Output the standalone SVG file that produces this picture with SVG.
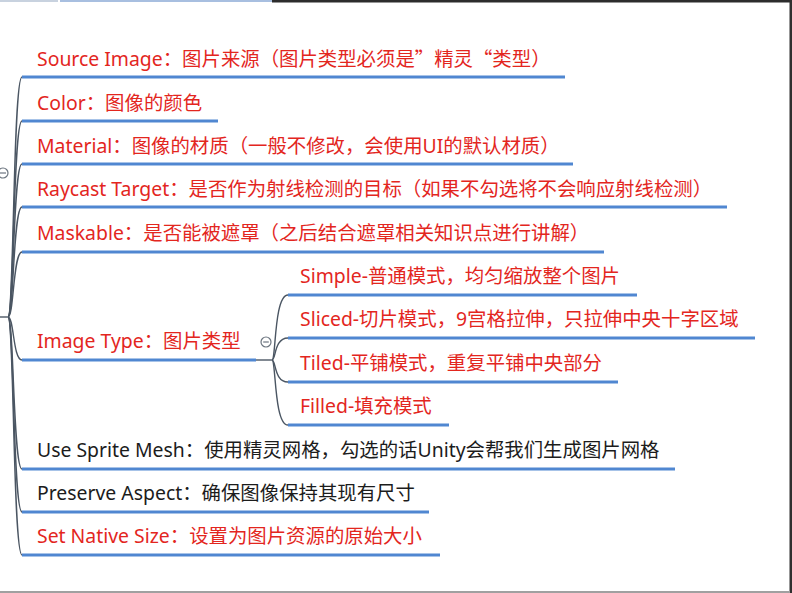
<svg xmlns="http://www.w3.org/2000/svg" width="792" height="593" viewBox="0 0 792 593">
<style>
text{font-family:"Noto Sans","Noto Sans CJK SC",sans-serif;font-size:19.4px;}
.r{fill:#e3261e;}
.k{fill:#1c1c1c;}
.q{font-family:"Noto Sans CJK SC",sans-serif;}
.ul{stroke:#5087d1;stroke-width:3.2;stroke-linecap:butt;fill:none;}
.cn{stroke:#4b5663;stroke-width:1.4;fill:none;}
.tg{fill:#fff;stroke:#6d7680;stroke-width:1.2;}
</style>
<rect x="0" y="0" width="792" height="593" fill="#ffffff"/>
<rect x="0" y="0" width="58" height="2" fill="#c8d2df"/>
<rect x="60" y="0" width="212" height="2" fill="#a8bfe0"/>
<rect x="272" y="0" width="520" height="2.5" fill="#2c2c2c"/>
<rect x="789.5" y="0" width="2.5" height="593" fill="#303030"/>
<rect x="0" y="591" width="790" height="2" fill="#a0a0a0"/>

<g id="connectors">
<path class="cn" d="M0 317 L8 317"/>
<path class="cn" d="M8 317 C14 317,13 77,22 77"/>
<path class="cn" d="M8 317 C14 317,13 121,22 121"/>
<path class="cn" d="M8 317 C14 317,13 164,22 164"/>
<path class="cn" d="M8 317 C14 317,13 207,22 207"/>
<path class="cn" d="M8 317 C14 317,13 252,22 252"/>
<path class="cn" d="M8 317 C14 317,13 360,22 360"/>
<path class="cn" d="M8 317 C14 317,13 469,22 469"/>
<path class="cn" d="M8 317 C14 317,13 512,22 512"/>
<path class="cn" d="M8 317 C14 317,13 555,22 555"/>
<path class="cn" d="M256 360 L272 360"/>
<path class="cn" d="M272 360 C276 360,274 295,288 295"/>
<path class="cn" d="M272 360 C276 360,274 338,288 338"/>
<path class="cn" d="M272 360 C276 360,274 382,288 382"/>
<path class="cn" d="M272 360 C276 360,274 425,288 425"/>
</g>

<g id="toggle-root">
<circle class="tg" cx="3" cy="173" r="5"/>
<line x1="0" y1="173" x2="6" y2="173" stroke="#6d7680" stroke-width="1.2"/>
</g>

<g id="source-image">
<text class="r" x="37" y="66">Source Image：图片来源（图片类型必须是<tspan class="q">”</tspan>精灵<tspan class="q">“</tspan>类型）</text>
<line class="ul" x1="22" y1="77" x2="565" y2="77"/>
</g>
<g id="color">
<text class="r" x="37" y="110">Color：图像的颜色</text>
<line class="ul" x1="22" y1="121" x2="218" y2="121"/>
</g>
<g id="material">
<text class="r" x="37" y="153">Material：图像的材质（一般不修改，会使用UI的默认材质）</text>
<line class="ul" x1="22" y1="164" x2="573" y2="164"/>
</g>
<g id="raycast-target">
<text class="r" x="37" y="196">Raycast Target：是否作为射线检测的目标（如果不勾选将不会响应射线检测）</text>
<line class="ul" x1="22" y1="207" x2="727" y2="207"/>
</g>
<g id="maskable">
<text class="r" x="37" y="240">Maskable：是否能被遮罩（之后结合遮罩相关知识点进行讲解）</text>
<line class="ul" x1="22" y1="252" x2="604" y2="252"/>
</g>
<g id="image-type">
<text class="r" x="37" y="348">Image Type：图片类型</text>
<line class="ul" x1="22" y1="360" x2="256" y2="360"/>
<circle class="tg" cx="266" cy="342" r="5"/>
<line x1="263.2" y1="342" x2="268.8" y2="342" stroke="#6d7680" stroke-width="1.2"/>
</g>
<g id="simple">
<text class="r" x="300" y="283">Simple-普通模式，均匀缩放整个图片</text>
<line class="ul" x1="288" y1="295" x2="637" y2="295"/>
</g>
<g id="sliced">
<text class="r" x="300" y="326">Sliced-切片模式，9宫格拉伸，只拉伸中央十字区域</text>
<line class="ul" x1="288" y1="338" x2="755" y2="338"/>
</g>
<g id="tiled">
<text class="r" x="300" y="370">Tiled-平铺模式，重复平铺中央部分</text>
<line class="ul" x1="288" y1="382" x2="618" y2="382"/>
</g>
<g id="filled">
<text class="r" x="300" y="413">Filled-填充模式</text>
<line class="ul" x1="288" y1="425" x2="449" y2="425"/>
</g>
<g id="use-sprite-mesh">
<text class="k" x="37" y="457">Use Sprite Mesh：使用精灵网格，勾选的话Unity会帮我们生成图片网格</text>
<line class="ul" x1="22" y1="469" x2="675" y2="469"/>
</g>
<g id="preserve-aspect">
<text class="k" x="37" y="500">Preserve Aspect：确保图像保持其现有尺寸</text>
<line class="ul" x1="22" y1="512" x2="429" y2="512"/>
</g>
<g id="set-native-size">
<text class="r" x="37" y="543">Set Native Size：设置为图片资源的原始大小</text>
<line class="ul" x1="22" y1="555" x2="440" y2="555"/>
</g>
</svg>
